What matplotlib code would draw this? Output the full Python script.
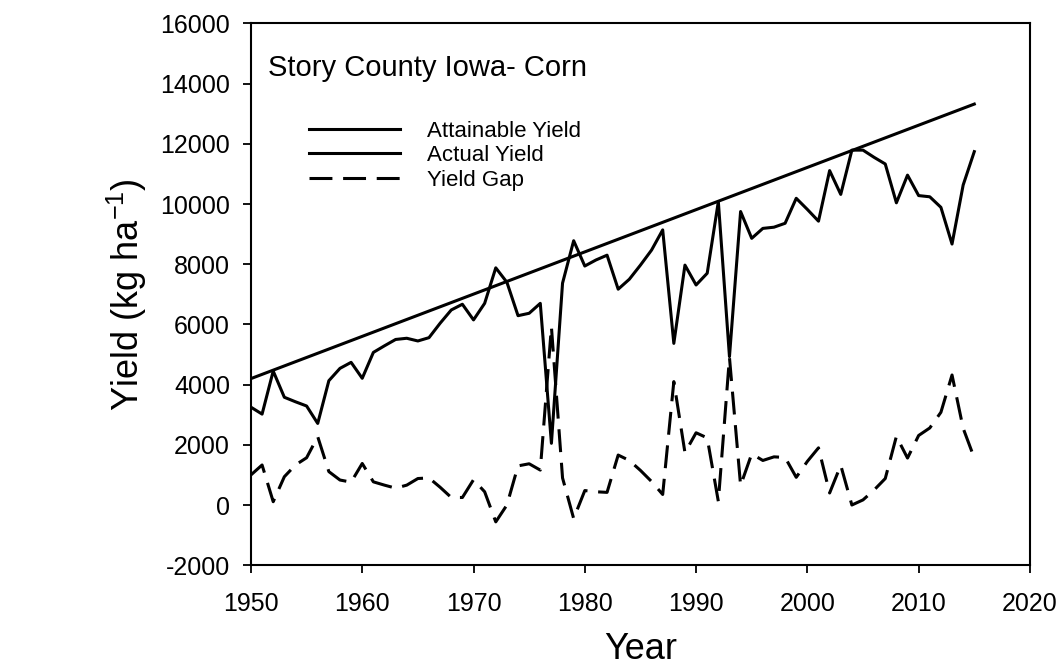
import numpy as np
import matplotlib
matplotlib.use("Agg")
import matplotlib.pyplot as plt

plt.rcParams['font.family'] = ['Liberation Sans', 'DejaVu Sans']
plt.rcParams['mathtext.fontset'] = 'custom'
plt.rcParams['mathtext.rm'] = 'Liberation Sans'
plt.rcParams['mathtext.it'] = 'Liberation Sans'
plt.rcParams['axes.unicode_minus'] = False

# data
years = np.arange(1950, 2016)

actual_yield = [3250, 3020, 4450, 3580, 3430, 3290, 2710, 4130, 4540, 4740,
                4210, 5070, 5290, 5500, 5540, 5450, 5560, 6040, 6480, 6670,
                6150, 6700, 7880, 7400, 6290, 6370, 6700, 2050, 7370, 8780,
                7940, 8140, 8300, 7170, 7500, 7970, 8470, 9140, 5370, 7970,
                7310, 7700, 10080, 4930, 9750, 8860, 9190, 9230, 9360, 10190,
                9820, 9430, 11110, 10320, 11790, 11790, 11550, 11330, 10040, 10960,
                10280, 10240, 9890, 8670, 10630, 11740]

yield_gap = [1000, 1330, 110, 940, 1330, 1570, 2270, 1110, 830, 760,
             1380, 770, 660, 560, 660, 880, 900, 590, 250, 250,
             840, 440, -560, 0, 1300, 1370, 1160, 5920, 900, -450,
             480, 440, 420, 1660, 1480, 1150, 780, 350, 4100, 1740,
             2400, 2230, 120, 4900, 650, 1700, 1480, 1600, 1580, 920,
             1450, 1900, 400, 1320, 0, 170, 500, 880, 2280, 1560,
             2310, 2560, 3080, 4320, 2550, 1560]

# attainable yield is a straight trend line
attainable_years = [1950, 2015]
attainable_yield = [4200, 13320]

fig = plt.figure(figsize=(10.62, 6.67), dpi=100)
ax = fig.add_axes([0.2363, 0.1526, 0.7335, 0.8123])

lw = 2.2
ax.plot(attainable_years, attainable_yield, color='black', lw=lw, label='Attainable Yield')
ax.plot(years, actual_yield, color='black', lw=lw, label='Actual Yield')
ax.plot(years, yield_gap, color='black', lw=lw, linestyle=(0, (7.5, 3.5)), label='Yield Gap')

ax.set_xlim(1950, 2020)
ax.set_ylim(-2000, 16000)
ax.set_xticks(np.arange(1950, 2021, 10))
ax.set_yticks(np.arange(-2000, 16001, 2000))

ax.tick_params(direction='out', length=6, width=1.3, labelsize=18, pad=9)
ax.tick_params(axis='x', pad=13)
for spine in ax.spines.values():
    spine.set_linewidth(1.5)

ax.set_xlabel('Year', fontsize=26, labelpad=12)
ax.set_ylabel(r'Yield (kg ha$^{-1}$)', fontsize=26, labelpad=8)

ax.text(0.022, 0.918, 'Story County Iowa- Corn', transform=ax.transAxes,
        fontsize=21, va='center', ha='left')

ax.legend(loc='upper left', bbox_to_anchor=(0.075, 0.82), frameon=False,
          fontsize=16, handlelength=4.1, handletextpad=1.2,
          labelspacing=0.15, borderpad=0, borderaxespad=0)

fig.savefig('out.png', dpi=100)
